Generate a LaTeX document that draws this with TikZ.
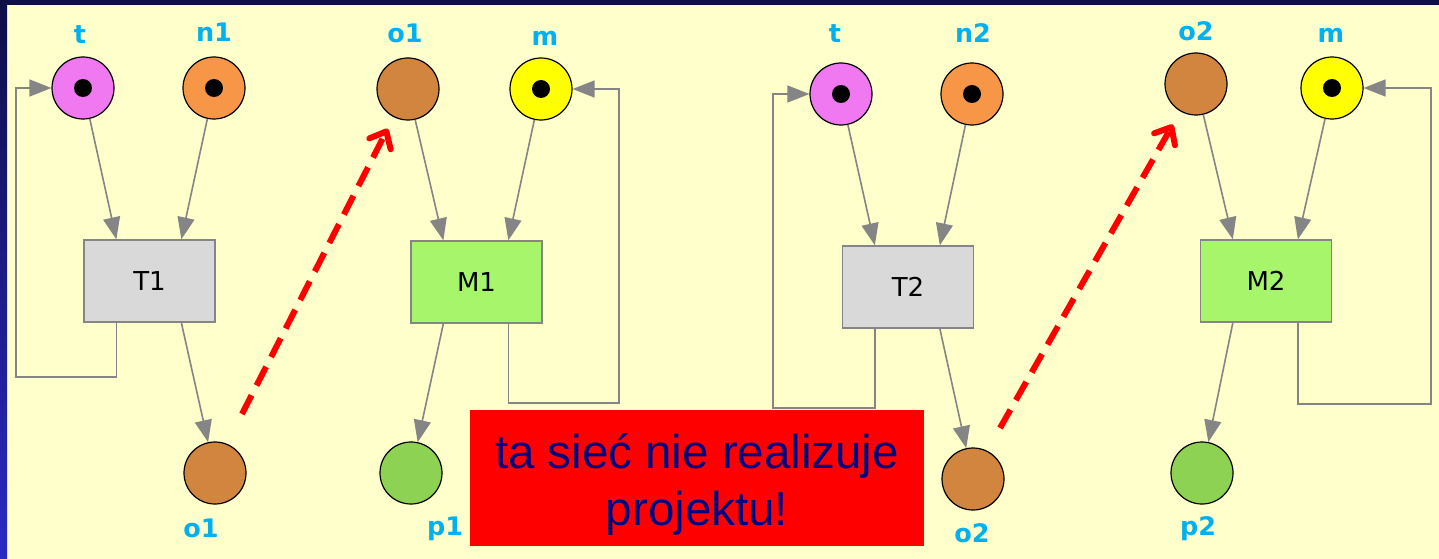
\documentclass[tikz,border=0pt]{standalone}
\usepackage{fontspec}
\setmainfont{DejaVu Sans}
\newfontfamily\boxfont{Liberation Sans}
\usetikzlibrary{arrows.meta,calc}
\definecolor{bgyellow}{HTML}{FFFFCC}
\definecolor{navytop}{HTML}{0E0E48}
\definecolor{navybot}{HTML}{2A2AC4}
\definecolor{lblblue}{HTML}{00B0F0}
\definecolor{arcgray}{HTML}{858585}
\definecolor{tpink}{HTML}{F078F0}
\definecolor{norange}{HTML}{F79646}
\definecolor{obrown}{HTML}{D2853F}
\definecolor{pgreen}{HTML}{8ED254}
\definecolor{myellow}{HTML}{FFFF00}
\definecolor{tgray}{HTML}{D9D9D9}
\definecolor{mgreen}{HTML}{A6F56A}
\definecolor{txtnavy}{HTML}{000080}
\tikzset{
  place/.style={circle, draw=black, line width=1.2pt, minimum size=62pt, inner sep=0pt},
  marked/.style={path picture={\fill[black] (path picture bounding box.center) circle (9pt);}},
  trans/.style={rectangle, draw=arcgray, line width=1.3pt, minimum width=131pt, minimum height=82pt, inner sep=0pt, font=\fontsize{26}{30}\selectfont},
  lbl/.style={text=lblblue, font=\fontsize{25.5}{30}\selectfont\bfseries, anchor=base, inner sep=0pt},
  arc/.style={draw=arcgray, line width=1.6pt, -{Triangle[length=22pt,width=17pt]}},
  redarr/.style={draw=red, line width=6pt, dash pattern=on 21pt off 11pt, -{Straight Barb[length=14pt,width=24pt,line cap=round,line join=round]}},
  notebox/.style={rectangle, fill=red, minimum width=454pt, minimum height=136pt, inner sep=0pt, align=center, text=txtnavy, text height=105pt, font=\boxfont\fontsize{47.5}{57}\selectfont}
}
\begin{document}
\begin{tikzpicture}[x=1pt,y=-1pt]
\useasboundingbox (0,0) rectangle (1439,559);
% background
\fill[bgyellow] (0,0) rectangle (1439,559);
\shade[top color=navytop, bottom color=navybot] (0,0) rectangle (7,559);
\fill[navytop] (0,0) rectangle (1439,5);

% left net
\node[place, marked, fill=tpink] (t1) at (83,88) {};
\node[place, marked, fill=norange] (n1) at (214,88) {};
\node[place, fill=obrown] (o1a) at (408,89) {};
\node[place, marked, fill=myellow] (m1) at (541,89) {};
\node[place, fill=obrown] (o1b) at (215,473) {};
\node[place, fill=pgreen] (p1) at (411,473) {};
\node[trans, fill=tgray] (T1) at (149.5,281) {T1};
\node[trans, fill=mgreen] (M1) at (476.5,282) {M1};

\node[lbl] (lt1) at (80,44) {t};
\node[lbl] (ln1) at (214,42) {n1};
\node[lbl] (lo1a) at (405,43) {o1};
\node[lbl] (lm1) at (545,46) {m};
\node[lbl] (lo1b) at (201,537) {o1};
\node[lbl] (lp1) at (445,535) {p1};

% right net
\node[place, marked, fill=tpink] (t2) at (841,94) {};
\node[place, marked, fill=norange] (n2) at (972,94) {};
\node[place, fill=obrown] (o2a) at (1196,84) {};
\node[place, marked, fill=myellow] (m2) at (1332,88) {};
\node[place, fill=obrown] (o2b) at (973,479) {};
\node[place, fill=pgreen] (p2) at (1202,473) {};
\node[trans, fill=tgray] (T2) at (908,287) {T2};
\node[trans, fill=mgreen] (M2) at (1266,281) {M2};

\node[lbl] (lt2) at (835,43) {t};
\node[lbl] (ln2) at (973,43) {n2};
\node[lbl] (lo2a) at (1196,41) {o2};
\node[lbl] (lm2) at (1331,43) {m};
\node[lbl] (lo2b) at (972,542) {o2};
\node[lbl] (lp2) at (1198,535) {p2};

% port coordinates on boxes
\foreach \b in {T1,M1,T2,M2}{
  \path (\b.north west) ++(33,0) coordinate (\b a);
  \path (\b.north west) ++(98,0) coordinate (\b b);
  \path (\b.south west) ++(33,0) coordinate (\b c);
  \path (\b.south west) ++(98,0) coordinate (\b d);
}
\coordinate (L1) at (16,377);
\coordinate (L2) at (619,403);
\coordinate (L3) at (773,408);
\coordinate (L4) at (1431,404);
\coordinate (r1s) at (242,414);
\coordinate (r2s) at (1000,428);

% arcs left
\draw[arc] (t1) -- (T1a);
\draw[arc] (n1) -- (T1b);
\draw[arc] (T1d) -- (o1b);
\draw[arc] (T1c) |- (L1) |- (t1);
\draw[arc] (o1a) -- (M1a);
\draw[arc] (m1) -- (M1b);
\draw[arc] (M1c) -- (p1);
\draw[arc] (M1d) |- (L2) |- (m1);

% arcs right
\draw[arc] (t2) -- (T2a);
\draw[arc] (n2) -- (T2b);
\draw[arc] (T2d) -- (o2b);
\draw[arc] (T2c) |- (L3) |- (t2);
\draw[arc] (o2a) -- (M2a);
\draw[arc] (m2) -- (M2b);
\draw[arc] (M2c) -- (p2);
\draw[arc] (M2d) |- (L4) |- (m2);

% red dashed arrows
\draw[redarr, shorten >=13pt] (r1s) -- (o1a);
\draw[redarr, shorten >=15pt] (r2s) -- (o2a);

% note
\node[notebox] (note) at (697,478) {ta sieć nie realizuje\\projektu!};
\end{tikzpicture}
\end{document}
